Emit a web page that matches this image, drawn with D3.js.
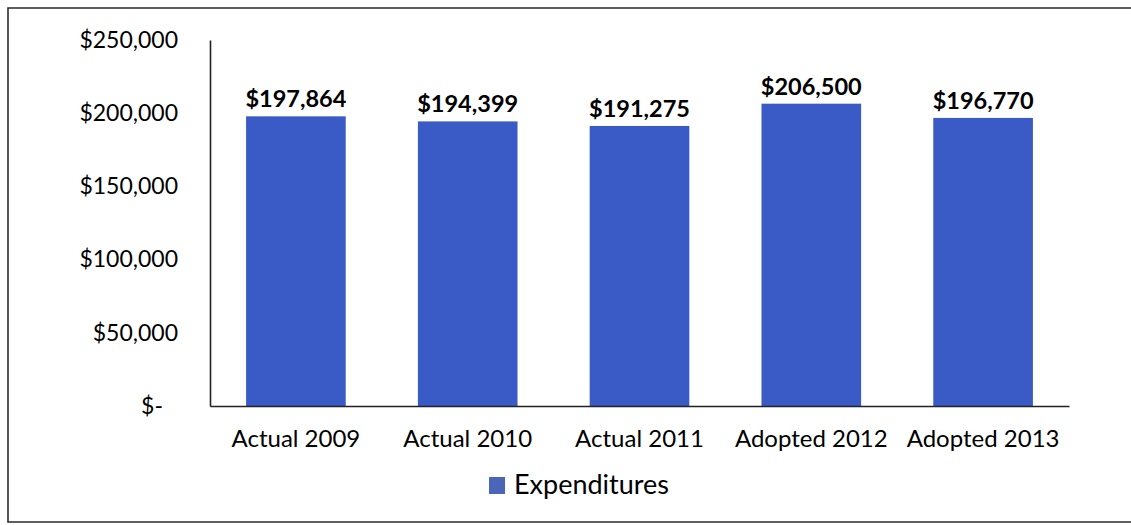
<!DOCTYPE html>
<html>
<head>
<meta charset="utf-8">
<script src="https://cdn.jsdelivr.net/npm/d3@7"></script>
<style>
  html, body { margin: 0; padding: 0; background: #ffffff; }
  svg { display: block; }
  text { font-family: Lato, "Open Sans", "Liberation Sans", sans-serif; fill: #000; }
</style>
</head>
<body>
<svg id="chart" width="1131" height="525"></svg>
<script>
// Expenditures by fiscal year
const categories = ["Actual 2009", "Actual 2010", "Actual 2011", "Adopted 2012", "Adopted 2013"];
const expenditures = [197864, 194399, 191275, 206500, 196770];
const yTicks = [0, 50000, 100000, 150000, 200000, 250000];
const seriesName = "Expenditures";

const svg = d3.select("#chart");
const W = 1131, H = 525;
const plot = { left: 210, right: 1069, top: 40, bottom: 406 };
const barColor = "#3a5bc6";

// outer frame (open on the right, runs past the page edge)
svg.append("path")
  .attr("d", `M${W + 5},8 H8 V522 H${W + 5}`)
  .attr("fill", "none")
  .attr("stroke", "#2b2b2b")
  .attr("stroke-width", 1.6);

const x = d3.scaleBand()
  .domain(categories)
  .range([plot.left, plot.right])
  .paddingInner(0.42)
  .paddingOuter(0.21);

const y = d3.scaleLinear()
  .domain([0, 250000])
  .range([plot.bottom, plot.top]);

const money = d3.format("$,.0f");

// bars
svg.append("g").selectAll("rect")
  .data(expenditures)
  .join("rect")
  .attr("x", (d, i) => x(categories[i]))
  .attr("y", d => y(d))
  .attr("width", x.bandwidth())
  .attr("height", d => y(0) - y(d))
  .attr("fill", barColor);

// value labels
svg.append("g").selectAll("text")
  .data(expenditures)
  .join("text")
  .attr("x", (d, i) => x(categories[i]) + x.bandwidth() / 2)
  .attr("y", d => y(d) - 9)
  .attr("text-anchor", "middle")
  .attr("font-size", 23.5)
  .attr("font-weight", 700)
  .text(d => money(d));

// y axis
const yAxis = d3.axisLeft(y)
  .tickValues(yTicks)
  .tickSize(0)
  .tickPadding(32)
  .tickFormat(d => d === 0 ? "$-" : money(d));
const gy = svg.append("g")
  .attr("transform", `translate(${plot.left},0)`)
  .call(yAxis);
gy.select(".domain").attr("stroke", "#222").attr("stroke-width", 1.6);
gy.selectAll("text")
  .attr("font-size", 23)
  .attr("font-family", "Lato, 'Open Sans', sans-serif")
  .attr("fill", "#000")
  .attr("dx", d => d === 0 ? -15 : 0);

// x axis
const xAxis = d3.axisBottom(x).tickSize(0).tickPadding(24);
const gx = svg.append("g")
  .attr("transform", `translate(0,${plot.bottom})`)
  .call(xAxis);
gx.select(".domain").attr("stroke", "#222").attr("stroke-width", 1.6);
gx.selectAll("text")
  .attr("font-size", 24)
  .attr("font-family", "Lato, 'Open Sans', sans-serif")
  .attr("fill", "#000");

// legend
const legend = svg.append("g").attr("transform", "translate(489,477)");
legend.append("rect")
  .attr("width", 16).attr("height", 17)
  .attr("fill", "#4a66b8");
legend.append("text")
  .attr("x", 25).attr("y", 17)
  .attr("font-size", 27)
  .text(seriesName);
</script>
</body>
</html>
